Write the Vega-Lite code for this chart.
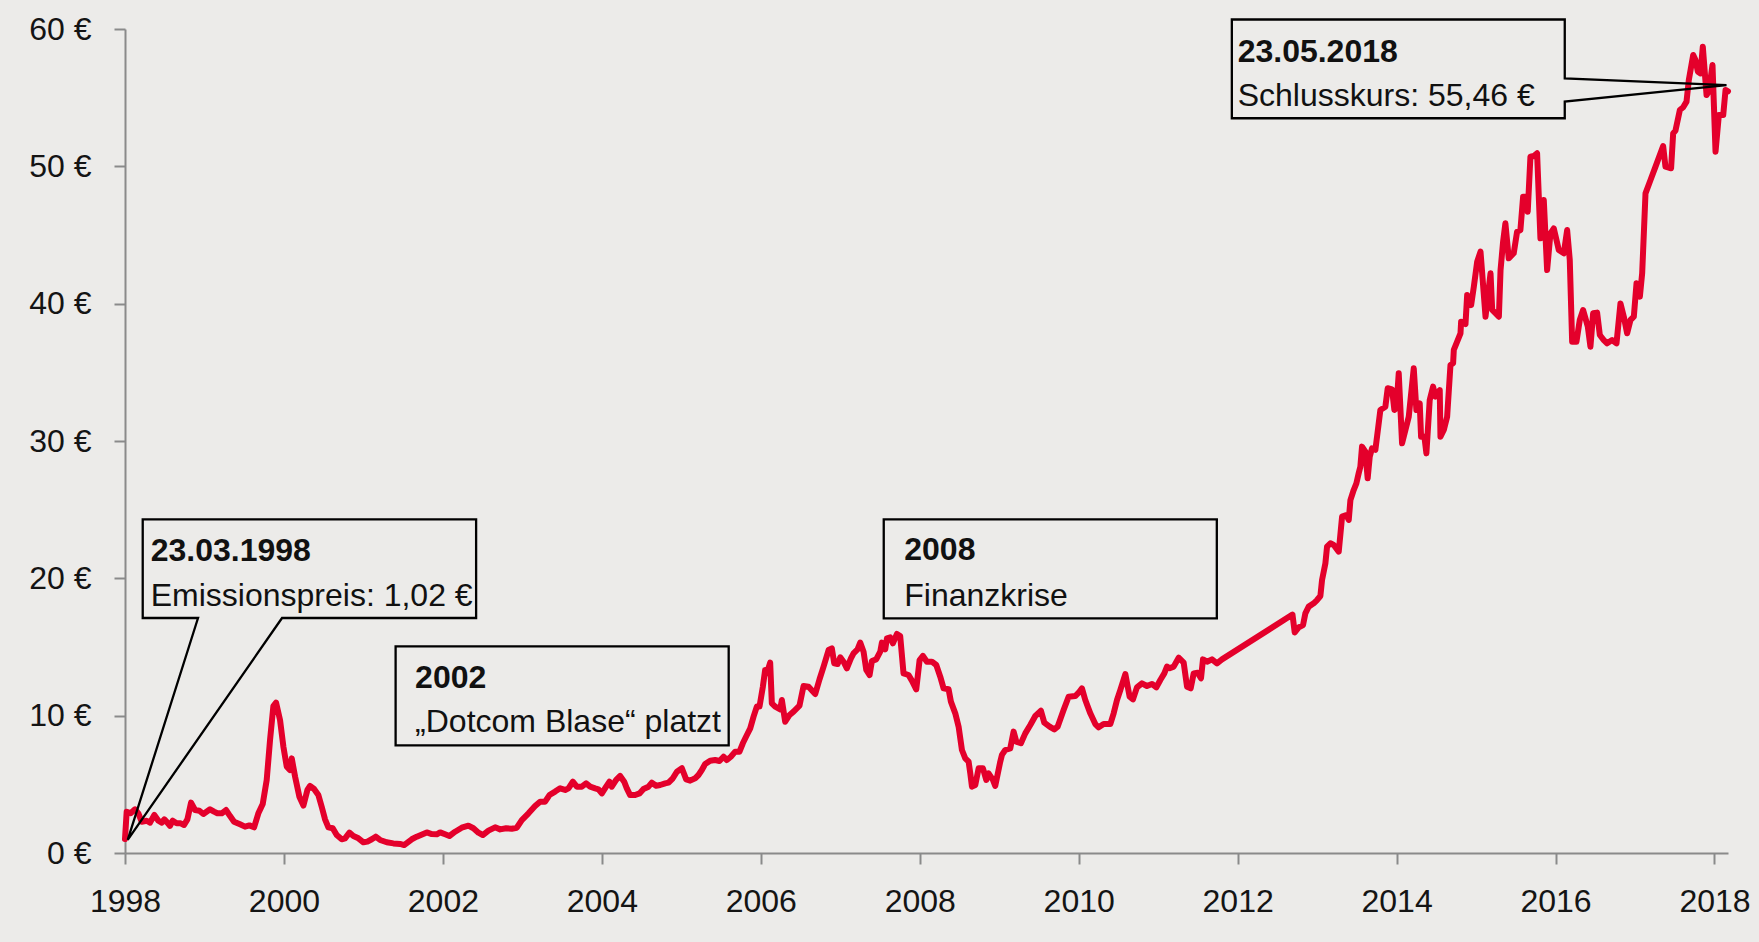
{
  "$schema": "https://vega.github.io/schema/vega-lite/v6.json",
  "width": 1603,
  "height": 824,
  "autosize": {"type": "none"},
  "padding": {"left": 125, "top": 29, "right": 31, "bottom": 89},
  "background": "#ECEBE9",
  "config": {
    "view": {"stroke": null},
    "font": "Liberation Sans",
    "axis": {
      "domainColor": "#8a8a8a", "domainWidth": 2, "tickColor": "#8a8a8a", "tickWidth": 2, "tickSize": 11,
      "labelFont": "Liberation Sans", "labelFontSize": 32, "labelColor": "#141414", "grid": false, "title": null,
      "labelFlush": false, "labelOverlap": false
    }
  },
  "datasets": {
    "price": [
      {"t":1998.000,"v":1.02},{"t":1998.021,"v":3.01},{"t":1998.071,"v":2.89},{"t":1998.126,"v":3.18},{"t":1998.168,"v":2.89},
      {"t":1998.210,"v":2.28},{"t":1998.273,"v":2.35},{"t":1998.315,"v":2.21},{"t":1998.369,"v":2.77},{"t":1998.420,"v":2.35},
      {"t":1998.462,"v":2.21},{"t":1998.495,"v":2.45},{"t":1998.533,"v":2.21},{"t":1998.566,"v":1.97},{"t":1998.600,"v":2.35},
      {"t":1998.650,"v":2.16},{"t":1998.701,"v":2.16},{"t":1998.743,"v":2.04},{"t":1998.785,"v":2.45},{"t":1998.831,"v":3.67},
      {"t":1998.881,"v":3.13},{"t":1998.936,"v":3.08},{"t":1998.986,"v":2.84},{"t":1999.070,"v":3.18},{"t":1999.120,"v":3.01},
      {"t":1999.162,"v":2.89},{"t":1999.217,"v":2.89},{"t":1999.271,"v":3.13},{"t":1999.322,"v":2.69},{"t":1999.372,"v":2.28},
      {"t":1999.447,"v":2.09},{"t":1999.510,"v":1.92},{"t":1999.565,"v":2.01},{"t":1999.624,"v":1.87},{"t":1999.678,"v":2.89},
      {"t":1999.733,"v":3.57},{"t":1999.783,"v":5.32},{"t":1999.825,"v":8.23},{"t":1999.867,"v":10.70},{"t":1999.901,"v":10.95},
      {"t":1999.951,"v":9.68},{"t":1999.993,"v":7.74},{"t":2000.035,"v":6.29},{"t":2000.077,"v":6.04},{"t":2000.098,"v":6.89},
      {"t":2000.140,"v":5.56},{"t":2000.194,"v":4.10},{"t":2000.245,"v":3.45},{"t":2000.295,"v":4.59},{"t":2000.328,"v":4.88},
      {"t":2000.379,"v":4.66},{"t":2000.433,"v":4.22},{"t":2000.475,"v":3.37},{"t":2000.517,"v":2.45},{"t":2000.559,"v":1.87},
      {"t":2000.614,"v":1.80},{"t":2000.664,"v":1.31},{"t":2000.727,"v":1.00},{"t":2000.769,"v":1.07},{"t":2000.824,"v":1.48},
      {"t":2000.874,"v":1.24},{"t":2000.937,"v":1.07},{"t":2001.000,"v":0.78},{"t":2001.050,"v":0.83},{"t":2001.105,"v":1.00},
      {"t":2001.155,"v":1.19},{"t":2001.210,"v":0.95},{"t":2001.293,"v":0.78},{"t":2001.377,"v":0.70},{"t":2001.461,"v":0.66},
      {"t":2001.512,"v":0.58},{"t":2001.558,"v":0.78},{"t":2001.608,"v":1.00},{"t":2001.671,"v":1.19},{"t":2001.797,"v":1.50},
      {"t":2001.860,"v":1.38},{"t":2001.923,"v":1.36},{"t":2001.965,"v":1.50},{"t":2002.028,"v":1.36},{"t":2002.082,"v":1.24},
      {"t":2002.154,"v":1.55},{"t":2002.237,"v":1.84},{"t":2002.321,"v":1.99},{"t":2002.384,"v":1.80},{"t":2002.447,"v":1.48},
      {"t":2002.502,"v":1.31},{"t":2002.573,"v":1.63},{"t":2002.657,"v":1.87},{"t":2002.720,"v":1.72},{"t":2002.795,"v":1.80},
      {"t":2002.867,"v":1.77},{"t":2002.930,"v":1.84},{"t":2002.993,"v":2.40},{"t":2003.077,"v":2.89},{"t":2003.160,"v":3.42},
      {"t":2003.223,"v":3.74},{"t":2003.286,"v":3.74},{"t":2003.341,"v":4.22},{"t":2003.412,"v":4.47},{"t":2003.475,"v":4.71},
      {"t":2003.538,"v":4.59},{"t":2003.580,"v":4.71},{"t":2003.635,"v":5.19},{"t":2003.685,"v":4.83},{"t":2003.748,"v":4.83},
      {"t":2003.802,"v":5.07},{"t":2003.853,"v":4.83},{"t":2003.916,"v":4.71},{"t":2003.958,"v":4.64},{"t":2004.000,"v":4.34},
      {"t":2004.054,"v":4.83},{"t":2004.096,"v":5.19},{"t":2004.125,"v":4.83},{"t":2004.180,"v":5.32},{"t":2004.230,"v":5.61},
      {"t":2004.281,"v":5.19},{"t":2004.314,"v":4.71},{"t":2004.356,"v":4.22},{"t":2004.419,"v":4.22},{"t":2004.474,"v":4.34},
      {"t":2004.524,"v":4.66},{"t":2004.587,"v":4.83},{"t":2004.629,"v":5.12},{"t":2004.683,"v":4.90},{"t":2004.734,"v":4.95},
      {"t":2004.797,"v":5.07},{"t":2004.839,"v":5.12},{"t":2004.893,"v":5.44},{"t":2004.944,"v":5.92},{"t":2005.007,"v":6.17},
      {"t":2005.061,"v":5.36},{"t":2005.111,"v":5.27},{"t":2005.174,"v":5.44},{"t":2005.216,"v":5.68},{"t":2005.258,"v":6.04},
      {"t":2005.300,"v":6.48},{"t":2005.363,"v":6.72},{"t":2005.426,"v":6.77},{"t":2005.480,"v":6.70},{"t":2005.531,"v":7.01},
      {"t":2005.573,"v":6.77},{"t":2005.623,"v":7.01},{"t":2005.678,"v":7.38},{"t":2005.732,"v":7.38},{"t":2005.774,"v":7.99},
      {"t":2005.825,"v":8.59},{"t":2005.867,"v":9.08},{"t":2005.909,"v":9.93},{"t":2005.950,"v":10.66},{"t":2005.984,"v":10.66},
      {"t":2006.026,"v":12.11},{"t":2006.055,"v":13.33},{"t":2006.076,"v":13.08},{"t":2006.118,"v":13.86},{"t":2006.139,"v":10.90},
      {"t":2006.181,"v":10.66},{"t":2006.244,"v":10.46},{"t":2006.265,"v":11.14},{"t":2006.307,"v":9.56},{"t":2006.362,"v":10.05},
      {"t":2006.412,"v":10.29},{"t":2006.487,"v":10.73},{"t":2006.538,"v":12.16},{"t":2006.601,"v":12.11},{"t":2006.685,"v":11.58},
      {"t":2006.739,"v":12.65},{"t":2006.790,"v":13.57},{"t":2006.853,"v":14.78},{"t":2006.894,"v":14.90},{"t":2006.924,"v":13.81},
      {"t":2006.966,"v":13.76},{"t":2007.000,"v":14.25},{"t":2007.041,"v":13.93},{"t":2007.083,"v":13.45},{"t":2007.134,"v":14.17},
      {"t":2007.167,"v":14.54},{"t":2007.217,"v":14.83},{"t":2007.251,"v":15.32},{"t":2007.293,"v":14.66},{"t":2007.327,"v":13.33},
      {"t":2007.369,"v":12.96},{"t":2007.398,"v":13.98},{"t":2007.452,"v":14.10},{"t":2007.503,"v":14.66},{"t":2007.524,"v":15.32},
      {"t":2007.566,"v":14.83},{"t":2007.587,"v":15.63},{"t":2007.629,"v":15.70},{"t":2007.662,"v":15.27},{"t":2007.713,"v":15.95},
      {"t":2007.754,"v":15.80},{"t":2007.796,"v":13.08},{"t":2007.859,"v":12.96},{"t":2007.901,"v":12.55},{"t":2007.956,"v":11.92},
      {"t":2007.998,"v":14.05},{"t":2008.040,"v":14.35},{"t":2008.090,"v":13.93},{"t":2008.153,"v":13.93},{"t":2008.208,"v":13.69},
      {"t":2008.258,"v":12.84},{"t":2008.300,"v":11.99},{"t":2008.363,"v":11.92},{"t":2008.392,"v":11.02},{"t":2008.447,"v":10.17},
      {"t":2008.489,"v":9.20},{"t":2008.531,"v":7.50},{"t":2008.573,"v":6.89},{"t":2008.615,"v":6.65},{"t":2008.636,"v":5.80},
      {"t":2008.657,"v":4.83},{"t":2008.699,"v":4.95},{"t":2008.741,"v":6.17},{"t":2008.795,"v":6.17},{"t":2008.837,"v":5.32},
      {"t":2008.866,"v":5.80},{"t":2008.921,"v":5.32},{"t":2008.950,"v":4.88},{"t":2009.013,"v":6.65},{"t":2009.034,"v":7.14},
      {"t":2009.076,"v":7.50},{"t":2009.139,"v":7.62},{"t":2009.181,"v":8.84},{"t":2009.215,"v":8.11},{"t":2009.273,"v":7.99},
      {"t":2009.328,"v":8.71},{"t":2009.391,"v":9.32},{"t":2009.454,"v":9.98},{"t":2009.525,"v":10.36},{"t":2009.567,"v":9.49},
      {"t":2009.634,"v":9.20},{"t":2009.693,"v":9.00},{"t":2009.735,"v":9.20},{"t":2009.810,"v":10.41},{"t":2009.873,"v":11.38},
      {"t":2009.957,"v":11.43},{"t":2009.999,"v":11.67},{"t":2010.041,"v":11.99},{"t":2010.083,"v":11.14},{"t":2010.146,"v":10.17},
      {"t":2010.209,"v":9.39},{"t":2010.251,"v":9.15},{"t":2010.314,"v":9.39},{"t":2010.398,"v":9.39},{"t":2010.440,"v":10.17},
      {"t":2010.482,"v":11.14},{"t":2010.524,"v":11.87},{"t":2010.587,"v":13.03},{"t":2010.641,"v":11.38},{"t":2010.683,"v":11.19},
      {"t":2010.733,"v":12.06},{"t":2010.796,"v":12.35},{"t":2010.859,"v":12.16},{"t":2010.922,"v":12.31},{"t":2010.977,"v":12.06},
      {"t":2011.027,"v":12.60},{"t":2011.077,"v":13.08},{"t":2011.111,"v":13.57},{"t":2011.144,"v":13.45},{"t":2011.195,"v":13.57},
      {"t":2011.258,"v":14.22},{"t":2011.321,"v":13.86},{"t":2011.363,"v":12.11},{"t":2011.409,"v":11.99},{"t":2011.447,"v":13.08},
      {"t":2011.497,"v":13.13},{"t":2011.539,"v":12.72},{"t":2011.564,"v":14.10},{"t":2011.615,"v":13.93},{"t":2011.677,"v":14.10},
      {"t":2011.740,"v":13.81},{"t":2011.803,"v":14.10},{"t":2012.690,"v":17.36},{"t":2012.718,"v":16.06},{"t":2012.768,"v":16.43},
      {"t":2012.823,"v":16.60},{"t":2012.852,"v":17.45},{"t":2012.894,"v":17.94},{"t":2012.957,"v":18.18},{"t":2012.999,"v":18.42},
      {"t":2013.041,"v":18.71},{"t":2013.062,"v":19.88},{"t":2013.104,"v":21.09},{"t":2013.125,"v":22.31},{"t":2013.167,"v":22.55},
      {"t":2013.209,"v":22.43},{"t":2013.272,"v":21.94},{"t":2013.314,"v":24.49},{"t":2013.368,"v":24.61},{"t":2013.398,"v":24.25},
      {"t":2013.419,"v":25.70},{"t":2013.460,"v":26.43},{"t":2013.494,"v":26.92},{"t":2013.523,"v":27.65},{"t":2013.544,"v":28.13},
      {"t":2013.565,"v":29.59},{"t":2013.607,"v":29.22},{"t":2013.636,"v":27.28},{"t":2013.662,"v":28.86},{"t":2013.691,"v":29.47},
      {"t":2013.733,"v":29.35},{"t":2013.762,"v":30.68},{"t":2013.796,"v":32.26},{"t":2013.859,"v":32.50},{"t":2013.888,"v":33.84},
      {"t":2013.943,"v":33.76},{"t":2013.972,"v":32.26},{"t":2013.997,"v":32.38},{"t":2014.027,"v":34.93},{"t":2014.069,"v":29.83},
      {"t":2014.153,"v":31.77},{"t":2014.216,"v":35.29},{"t":2014.249,"v":32.26},{"t":2014.291,"v":32.74},{"t":2014.308,"v":30.31},
      {"t":2014.350,"v":30.31},{"t":2014.375,"v":29.10},{"t":2014.417,"v":32.99},{"t":2014.459,"v":33.96},{"t":2014.489,"v":33.23},
      {"t":2014.543,"v":33.71},{"t":2014.552,"v":30.31},{"t":2014.594,"v":30.80},{"t":2014.636,"v":31.77},{"t":2014.678,"v":35.54},
      {"t":2014.711,"v":35.66},{"t":2014.720,"v":36.63},{"t":2014.762,"v":37.23},{"t":2014.804,"v":37.84},{"t":2014.812,"v":38.69},
      {"t":2014.867,"v":38.52},{"t":2014.888,"v":40.63},{"t":2014.938,"v":39.90},{"t":2014.972,"v":41.24},{"t":2015.014,"v":43.06},
      {"t":2015.056,"v":43.79},{"t":2015.119,"v":39.05},{"t":2015.182,"v":42.21},{"t":2015.203,"v":39.54},{"t":2015.287,"v":39.05},
      {"t":2015.308,"v":42.45},{"t":2015.340,"v":44.50},{"t":2015.369,"v":45.85},{"t":2015.411,"v":43.30},{"t":2015.474,"v":43.67},
      {"t":2015.516,"v":45.24},{"t":2015.558,"v":45.36},{"t":2015.592,"v":47.79},{"t":2015.634,"v":47.79},{"t":2015.650,"v":46.70},
      {"t":2015.684,"v":50.70},{"t":2015.726,"v":50.75},{"t":2015.768,"v":50.95},{"t":2015.810,"v":44.76},{"t":2015.852,"v":47.55},
      {"t":2015.894,"v":42.45},{"t":2015.936,"v":45.12},{"t":2015.978,"v":45.48},{"t":2016.041,"v":43.91},{"t":2016.104,"v":43.67},
      {"t":2016.146,"v":45.36},{"t":2016.179,"v":43.18},{"t":2016.209,"v":37.23},{"t":2016.263,"v":37.23},{"t":2016.305,"v":38.81},
      {"t":2016.347,"v":39.54},{"t":2016.406,"v":38.33},{"t":2016.439,"v":36.87},{"t":2016.473,"v":39.30},{"t":2016.523,"v":39.35},
      {"t":2016.557,"v":37.72},{"t":2016.607,"v":37.35},{"t":2016.649,"v":37.11},{"t":2016.712,"v":37.35},{"t":2016.767,"v":37.11},
      {"t":2016.817,"v":40.02},{"t":2016.859,"v":39.05},{"t":2016.901,"v":37.84},{"t":2016.943,"v":38.81},{"t":2016.985,"v":39.05},
      {"t":2017.019,"v":41.48},{"t":2017.061,"v":40.51},{"t":2017.090,"v":42.21},{"t":2017.132,"v":48.03},{"t":2017.195,"v":49.00},
      {"t":2017.258,"v":49.98},{"t":2017.354,"v":51.48},{"t":2017.383,"v":49.98},{"t":2017.454,"v":49.86},{"t":2017.480,"v":52.40},
      {"t":2017.509,"v":52.60},{"t":2017.564,"v":54.10},{"t":2017.606,"v":54.30},{"t":2017.648,"v":54.71},{"t":2017.677,"v":56.29},
      {"t":2017.732,"v":58.11},{"t":2017.761,"v":57.74},{"t":2017.791,"v":56.89},{"t":2017.824,"v":56.77},{"t":2017.853,"v":58.71},
      {"t":2017.900,"v":55.20},{"t":2017.929,"v":55.44},{"t":2017.975,"v":57.38},{"t":2018.013,"v":51.07},{"t":2018.055,"v":53.74},
      {"t":2018.110,"v":53.74},{"t":2018.139,"v":55.56},{"t":2018.170,"v":55.46}
    ],
    "boxes": [
      {"box":"b1","i":0,"t":1998.223,"v":24.30},{"box":"b1","i":1,"t":2002.418,"v":24.30},{"box":"b1","i":2,"t":2002.418,"v":17.11},
      {"box":"b1","i":3,"t":1999.976,"v":17.11},{"box":"b1","i":4,"t":1998.034,"v":0.95},{"box":"b1","i":5,"t":1998.919,"v":17.11},
      {"box":"b1","i":6,"t":1998.223,"v":17.11},{"box":"b1","i":7,"t":1998.223,"v":24.30},
      {"box":"b2","i":0,"t":2001.405,"v":15.04},{"box":"b2","i":1,"t":2005.596,"v":15.04},{"box":"b2","i":2,"t":2005.596,"v":7.83},
      {"box":"b2","i":3,"t":2001.405,"v":7.83},{"box":"b2","i":4,"t":2001.405,"v":15.04},
      {"box":"b3","i":0,"t":2007.547,"v":24.30},{"box":"b3","i":1,"t":2011.738,"v":24.30},{"box":"b3","i":2,"t":2011.738,"v":17.09},
      {"box":"b3","i":3,"t":2007.547,"v":17.09},{"box":"b3","i":4,"t":2007.547,"v":24.30},
      {"box":"b4","i":0,"t":2011.927,"v":60.69},{"box":"b4","i":1,"t":2016.116,"v":60.69},{"box":"b4","i":2,"t":2016.116,"v":56.41},
      {"box":"b4","i":3,"t":2018.151,"v":55.92},{"box":"b4","i":4,"t":2016.116,"v":54.71},{"box":"b4","i":5,"t":2016.116,"v":53.50},
      {"box":"b4","i":6,"t":2011.927,"v":53.50},{"box":"b4","i":7,"t":2011.927,"v":60.69}
    ],
    "labels": [
      {"kind":"head","t":1998.3235,"v":21.28,"text":"23.03.1998"},
      {"kind":"body","t":1998.3235,"v":17.99,"text":"Emissionspreis: 1,02 €"},
      {"kind":"head","t":2001.650,"v":11.99,"text":"2002"},
      {"kind":"body","t":2001.650,"v":8.83,"text":"„Dotcom Blase“ platzt"},
      {"kind":"head","t":2007.805,"v":21.34,"text":"2008"},
      {"kind":"body","t":2007.805,"v":17.99,"text":"Finanzkrise"},
      {"kind":"head","t":2012.000,"v":57.58,"text":"23.05.2018"},
      {"kind":"body","t":2012.000,"v":54.39,"text":"Schlusskurs: 55,46 €"}
    ]
  },
  "layer": [
    {
      "data": {"name": "price"},
      "mark": {"type": "line", "color": "#E4002B", "strokeWidth": 6, "strokeJoin": "round", "strokeCap": "round"},
      "encoding": {
        "x": {"field": "t", "type": "quantitative",
              "scale": {"domain": [1998, 2018.17], "nice": false, "zero": false},
              "axis": {"values": [1998, 2000, 2002, 2004, 2006, 2008, 2010, 2012, 2014, 2016, 2018], "format": "d", "labelPadding": 22}},
        "y": {"field": "v", "type": "quantitative",
              "scale": {"domain": [0, 60], "nice": false},
              "axis": {"values": [0, 10, 20, 30, 40, 50, 60], "labelExpr": "datum.value + ' €'", "labelPadding": 23}}
      }
    },
    {
      "data": {"name": "boxes"},
      "mark": {"type": "line", "color": "#000000", "strokeWidth": 2.3, "strokeJoin": "miter", "strokeCap": "square"},
      "encoding": {
        "x": {"field": "t", "type": "quantitative"},
        "y": {"field": "v", "type": "quantitative"},
        "detail": {"field": "box"},
        "order": {"field": "i", "type": "quantitative"}
      }
    },
    {
      "data": {"name": "labels"},
      "transform": [{"filter": "datum.kind === 'head'"}],
      "mark": {"type": "text", "align": "left", "baseline": "alphabetic", "fontSize": 32, "fontWeight": "bold", "color": "#111111", "font": "Liberation Sans"},
      "encoding": {
        "x": {"field": "t", "type": "quantitative"},
        "y": {"field": "v", "type": "quantitative"},
        "text": {"field": "text"}
      }
    },
    {
      "data": {"name": "labels"},
      "transform": [{"filter": "datum.kind === 'body'"}],
      "mark": {"type": "text", "align": "left", "baseline": "alphabetic", "fontSize": 32, "color": "#111111", "font": "Liberation Sans"},
      "encoding": {
        "x": {"field": "t", "type": "quantitative"},
        "y": {"field": "v", "type": "quantitative"},
        "text": {"field": "text"}
      }
    }
  ]
}
